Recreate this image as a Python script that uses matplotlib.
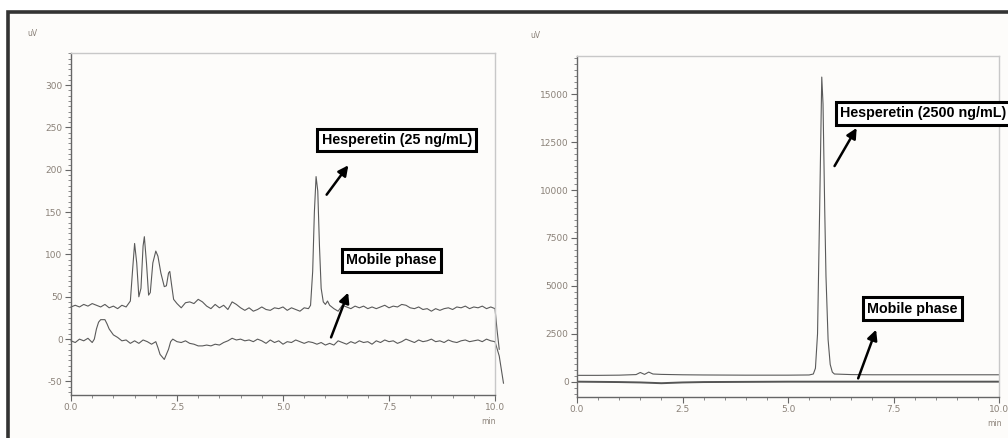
import matplotlib
matplotlib.use("Agg")
import matplotlib.pyplot as plt
from matplotlib.patches import Rectangle
from matplotlib.ticker import AutoMinorLocator
from matplotlib import font_manager

# ---------------- data ----------------
# Left panel: Hesperetin 25 ng/mL (sample) and mobile phase
left_sample_t = [0.0, 0.1, 0.2, 0.3, 0.4, 0.5, 0.6, 0.7, 0.8, 0.9, 1.0, 1.1, 1.2, 1.3, 1.4,
                 1.45, 1.5, 1.55, 1.6, 1.65, 1.7, 1.73, 1.78, 1.83, 1.87, 1.93, 2.0, 2.05,
                 2.12, 2.2, 2.25, 2.3, 2.33, 2.37, 2.42, 2.5, 2.6, 2.7, 2.8, 2.9, 3.0, 3.1,
                 3.2, 3.3, 3.4, 3.5, 3.6, 3.7, 3.8, 3.9, 4.0, 4.1, 4.2, 4.3, 4.4, 4.5, 4.6,
                 4.7, 4.8, 4.9, 5.0, 5.1, 5.2, 5.3, 5.4, 5.5, 5.6, 5.65, 5.7, 5.74, 5.78,
                 5.82, 5.86, 5.9, 5.95, 6.0, 6.05, 6.1, 6.2, 6.3, 6.4, 6.5, 6.6, 6.7, 6.8,
                 6.9, 7.0, 7.1, 7.2, 7.3, 7.4, 7.5, 7.6, 7.7, 7.8, 7.9, 8.0, 8.1, 8.2, 8.3,
                 8.4, 8.5, 8.6, 8.7, 8.8, 8.9, 9.0, 9.1, 9.2, 9.3, 9.4, 9.5, 9.6, 9.7, 9.8,
                 9.9, 10.0, 10.05, 10.1]
left_sample_uv = [38, 40, 38, 41, 39, 42, 40, 38, 41, 37, 39, 36, 40, 38, 45,
                  80, 113, 90, 50, 60, 110, 121, 90, 52, 55, 90, 104, 98,
                  78, 62, 63, 78, 80, 65, 47, 42, 37, 43, 44, 42, 47, 44,
                  39, 36, 41, 37, 40, 35, 44, 41, 37, 34, 37, 33, 35, 38, 35,
                  34, 37, 36, 38, 34, 37, 35, 33, 37, 36, 40, 80, 150, 192,
                  175, 110, 60, 44, 41, 45, 40, 36, 33, 40, 38, 36, 39, 37,
                  39, 36, 38, 36, 38, 40, 37, 39, 38, 41, 40, 37, 36, 38, 35,
                  36, 33, 36, 34, 36, 37, 35, 38, 37, 39, 36, 38, 37, 39, 36,
                  38, 36, 10, -12]

left_mobile_t = [0.0, 0.1, 0.2, 0.3, 0.4, 0.5, 0.55, 0.6, 0.65, 0.7, 0.8, 0.85, 0.9, 1.0,
                 1.1, 1.2, 1.3, 1.4, 1.5, 1.6, 1.7, 1.8, 1.9, 2.0, 2.05, 2.1, 2.2, 2.3,
                 2.35, 2.4, 2.5, 2.6, 2.7, 2.8, 2.9, 3.0, 3.1, 3.2, 3.3, 3.4, 3.5, 3.6,
                 3.7, 3.8, 3.9, 4.0, 4.1, 4.2, 4.3, 4.4, 4.5, 4.6, 4.7, 4.8, 4.9, 5.0,
                 5.1, 5.2, 5.3, 5.4, 5.5, 5.6, 5.7, 5.8, 5.9, 6.0, 6.1, 6.2, 6.3, 6.4,
                 6.5, 6.6, 6.7, 6.8, 6.9, 7.0, 7.1, 7.2, 7.3, 7.4, 7.5, 7.6, 7.7, 7.8,
                 7.9, 8.0, 8.1, 8.2, 8.3, 8.4, 8.5, 8.6, 8.7, 8.8, 8.9, 9.0, 9.1, 9.2,
                 9.3, 9.4, 9.5, 9.6, 9.7, 9.8, 9.9, 10.0, 10.1, 10.2]
left_mobile_uv = [-2, -4, 0, -2, 1, -4, 0, 12, 20, 23, 23, 18, 12, 5,
                  2, -2, -1, -5, -2, -5, -1, -3, -6, -3, -10, -18, -24, -12,
                  -3, 0, -3, -4, -2, -5, -6, -8, -8, -7, -8, -6, -7, -4,
                  -2, 1, -1, 0, -2, -1, -3, 0, -2, -5, -1, -4, -2, -6,
                  -3, -4, -1, -3, -5, -3, -4, -6, -4, -7, -5, -7, -2, -4,
                  -6, -3, -5, -2, -4, -3, -6, -2, -4, -1, -3, -2, -5, -3,
                  0, -2, -4, -1, -3, -2, 0, -3, -2, -4, -1, -3, -4, -2,
                  -1, -3, -2, -1, -3, 0, -2, -3, -20, -52]

# Right panel: Hesperetin 2500 ng/mL (sample) and mobile phase
right_sample_t = [0.0, 0.5, 1.0, 1.4, 1.5, 1.6, 1.7, 1.8, 2.0, 2.5, 3.0, 4.0, 5.0, 5.5,
                  5.6, 5.65, 5.7, 5.75, 5.8, 5.83, 5.87, 5.9, 5.95, 6.0, 6.05, 6.1, 6.5,
                  7.0, 8.0, 9.0, 10.0]
right_sample_uv = [330, 330, 340, 370, 480, 380, 500, 400, 380, 360, 350, 340, 340, 350,
                   400, 700, 2500, 9000, 15900, 14500, 9000, 5500, 2200, 900, 500, 400, 370,
                   360, 360, 360, 360]

right_mobile_t = [0.0, 1.0, 1.5, 2.0, 2.5, 3.0, 4.0, 5.0, 6.0, 7.0, 8.0, 9.0, 10.0]
right_mobile_uv = [0, -20, -40, -80, -40, -20, -10, 0, 0, 0, 0, 0, 0]

left_yticks = [-50, 0, 50, 100, 150, 200, 250, 300]
right_yticks = [0, 2500, 5000, 7500, 10000, 12500, 15000]
x_ticks = [0.0, 2.5, 5.0, 7.5, 10.0]

# ---------------- figure ----------------
W, H = 1008, 438
fig = plt.figure(figsize=(W / 100, H / 100), dpi=100)
fig.patch.set_facecolor("white")

def fx(px):
    return px / W

def fy(py):
    return 1 - py / H

frame = Rectangle((fx(8), fy(460)), fx(1100), fy(12.5) - fy(460),
                  transform=fig.transFigure, facecolor="#fdfcfa",
                  edgecolor="#333333", linewidth=2.6, zorder=-10)
fig.patches.append(frame)

# narrow bold font for the call-out labels, if available
names = {f.name for f in font_manager.fontManager.ttflist}
if "Liberation Sans Narrow" in names:
    LBL_FAMILY, LBL_SIZE = "Liberation Sans Narrow", 12.0
else:
    LBL_FAMILY, LBL_SIZE = "Liberation Sans", 10.3

BOX = dict(boxstyle="square,pad=0.3", facecolor="white", edgecolor="black", linewidth=2.2)
TRACE = "#5a5a5a"
TICKC = "#8a8178"

def style_axes(ax, ylim, yticks, ylabels):
    ax.set_facecolor("none")
    ax.set_xlim(0, 10)
    ax.set_ylim(*ylim)
    ax.set_xticks(x_ticks)
    ax.set_xticklabels([f"{v:.1f}" for v in x_ticks])
    ax.set_yticks(yticks)
    ax.set_yticklabels(ylabels)
    ax.xaxis.set_minor_locator(AutoMinorLocator(5))
    ax.yaxis.set_minor_locator(AutoMinorLocator(8))
    for s in ("left", "bottom"):
        ax.spines[s].set_color("#666666")
        ax.spines[s].set_linewidth(1.0)
    for s in ("top", "right"):
        ax.spines[s].set_color("#c8c8c8")
        ax.spines[s].set_linewidth(1.0)
    ax.tick_params(which="major", length=4, width=0.8, color="#666666",
                   labelsize=6.5, labelcolor=TICKC, pad=2)
    ax.tick_params(which="minor", length=2, width=0.6, color="#777777")

ARROW = dict(arrowstyle="-|>,head_length=0.6,head_width=0.3", color="black", lw=1.8)
TXT = dict(ha="center", va="center", fontsize=LBL_SIZE, fontweight="bold",
           family=LBL_FAMILY, bbox=BOX)

# ---- left panel ----
axL = fig.add_axes([fx(71), fy(395), fx(495) - fx(71), fy(53) - fy(395)])
axL.set_zorder(1)
axL.plot(left_sample_t, left_sample_uv, color=TRACE, lw=0.8, clip_on=False)
axL.plot(left_mobile_t, left_mobile_uv, color=TRACE, lw=0.8, clip_on=False)
style_axes(axL, (-66, 338), left_yticks, [f"{v}" for v in left_yticks])

axL.text(7.68, 235, "Hesperetin (25 ng/mL)", **TXT)
axL.annotate("", xy=(6.58, 208), xytext=(5.99, 168), arrowprops=ARROW)
axL.text(7.56, 93, "Mobile phase", **TXT)
axL.annotate("", xy=(6.56, 58), xytext=(6.11, -1), arrowprops=ARROW)

fig.text(fx(27), fy(34), "uV", fontsize=5.5, color=TICKC, ha="left", va="center")
fig.text(fx(488), fy(422), "min", fontsize=5.5, color=TICKC, ha="center", va="center")

# ---- right panel ----
axR = fig.add_axes([fx(577), fy(397), fx(999) - fx(577), fy(56) - fy(397)])
axR.set_zorder(1)
axR.plot(right_sample_t, right_sample_uv, color=TRACE, lw=0.8)
axR.plot(right_mobile_t, right_mobile_uv, color="#555555", lw=1.4)
style_axes(axR, (-800, 17000), right_yticks, [f"{v}" for v in right_yticks])

axR.text(8.2, 14000, "Hesperetin (2500 ng/mL)", **TXT)
axR.annotate("", xy=(6.66, 13370), xytext=(6.07, 11130), arrowprops=ARROW)
axR.text(7.94, 3812, "Mobile phase", **TXT)
axR.annotate("", xy=(7.11, 2849), xytext=(6.64, 36), arrowprops=ARROW)

fig.text(fx(530), fy(36), "uV", fontsize=5.5, color=TICKC, ha="left", va="center")
fig.text(fx(995), fy(424), "min", fontsize=5.5, color=TICKC, ha="center", va="center")

fig.savefig("out.png", dpi=100, facecolor=fig.get_facecolor())
